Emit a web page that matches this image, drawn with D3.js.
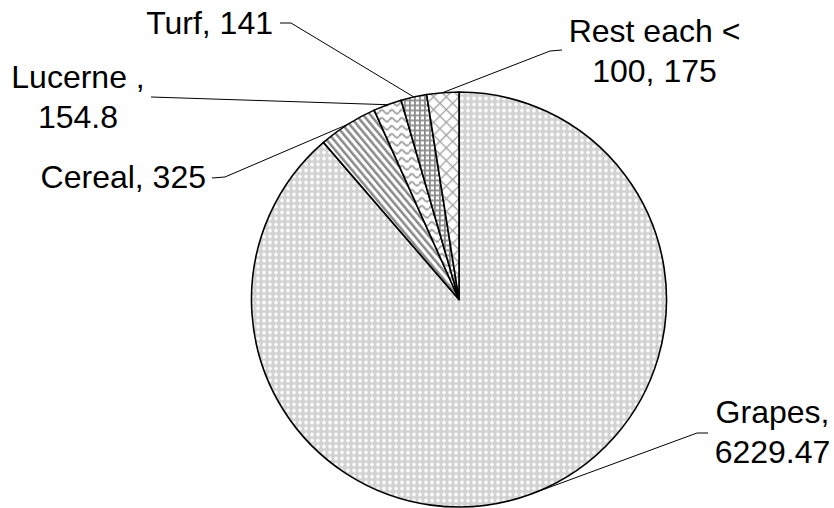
<!DOCTYPE html>
<html>
<head>
<meta charset="utf-8">
<script src="https://cdn.jsdelivr.net/npm/d3@7"></script>
<style>
  html, body { margin: 0; padding: 0; background: #fff; }
  svg { display: block; }
  text { font-family: "Liberation Sans", Arial, sans-serif; font-size: 32px; fill: #000; }
</style>
</head>
<body>
<svg id="chart" width="834" height="508"></svg>
<script>
// Irrigated crop areas
const crops = ["Grapes", "Cereal", "Lucerne", "Turf", "Rest"];
const areas = [6229.47, 325, 154.8, 141, 175];
const labelLines = [
  ["Grapes,", "6229.47"],
  ["Cereal, 325"],
  ["Lucerne ,", "154.8"],
  ["Turf, 141"],
  ["Rest each <", "100, 175"]
];

// Label placement (text anchor point, baselines, leader elbow points)
const labelLayout = {
  Grapes:  { x: 772.5, y: 423, anchor: "middle", leader: [[708, 433], [697, 433]] },
  Cereal:  { x: 206,   y: 188, anchor: "end",    leader: [[212, 178], [225, 177]] },
  Lucerne: { x: 78,    y: 88,  anchor: "middle", leader: [[151, 97]] },
  Turf:    { x: 273,   y: 34,  anchor: "end",    leader: [[280, 23], [291, 23]] },
  Rest:    { x: 654.5, y: 42,  anchor: "middle", leader: [[562, 50], [550, 51]] }
};
const lineHeight = 39.5;

const svg = d3.select("#chart");
const cx = 459, cy = 299.5, r = 207.5;

// ---- fill patterns ----
const defs = svg.append("defs");

// Grapes: fine light-grey lattice with white crosses
const pG = defs.append("pattern").attr("id", "pat-grapes")
  .attr("patternUnits", "userSpaceOnUse").attr("width", 6).attr("height", 6);
pG.append("rect").attr("width", 6).attr("height", 6).attr("fill", "#d2d2d2");
pG.append("rect").attr("x", 2).attr("y", 1).attr("width", 2).attr("height", 4).attr("fill", "#f4f4f4");
pG.append("rect").attr("x", 1).attr("y", 2).attr("width", 4).attr("height", 2).attr("fill", "#f4f4f4");
pG.append("rect").attr("x", 2).attr("y", 2).attr("width", 2).attr("height", 2).attr("fill", "#ffffff");

// Cereal: dark diagonal stripes running down to the right
const pC = defs.append("pattern").attr("id", "pat-cereal")
  .attr("patternUnits", "userSpaceOnUse").attr("width", 5.5).attr("height", 6)
  .attr("patternTransform", "rotate(-40)");
pC.append("rect").attr("width", 5.5).attr("height", 6).attr("fill", "#fff");
pC.append("rect").attr("x", 0).attr("y", 0).attr("width", 2.5).attr("height", 6).attr("fill", "#8a8a8a");

// Lucerne: horizontal waves
const pL = defs.append("pattern").attr("id", "pat-lucerne")
  .attr("patternUnits", "userSpaceOnUse").attr("width", 10).attr("height", 8);
pL.append("rect").attr("width", 10).attr("height", 8).attr("fill", "#fff");
pL.append("path").attr("d", "M0,5 Q2.5,0.5 5,4 Q7.5,7.5 10,5")
  .attr("fill", "none").attr("stroke", "#9a9a9a").attr("stroke-width", 1.8);

// Turf: small grid
const pT = defs.append("pattern").attr("id", "pat-turf")
  .attr("patternUnits", "userSpaceOnUse").attr("width", 5).attr("height", 5);
pT.append("rect").attr("width", 5).attr("height", 5).attr("fill", "#fff");
pT.append("rect").attr("x", 0).attr("y", 0).attr("width", 1.8).attr("height", 5).attr("fill", "#8c8c8c");
pT.append("rect").attr("x", 0).attr("y", 0).attr("width", 5).attr("height", 1.8).attr("fill", "#8c8c8c");

// Rest: diagonal trellis
const pR = defs.append("pattern").attr("id", "pat-rest")
  .attr("patternUnits", "userSpaceOnUse").attr("width", 9).attr("height", 9)
  .attr("patternTransform", "rotate(45)");
pR.append("rect").attr("width", 9).attr("height", 9).attr("fill", "#fff");
pR.append("rect").attr("x", 0).attr("y", 0).attr("width", 1.4).attr("height", 9).attr("fill", "#a8a8a8");
pR.append("rect").attr("x", 0).attr("y", 0).attr("width", 9).attr("height", 1.4).attr("fill", "#a8a8a8");

const fills = d3.scaleOrdinal()
  .domain(crops)
  .range(["url(#pat-grapes)", "url(#pat-cereal)", "url(#pat-lucerne)", "url(#pat-turf)", "url(#pat-rest)"]);

// ---- pie ----
const data = crops.map((c, i) => ({ crop: c, value: areas[i], lines: labelLines[i] }));
const pie = d3.pie().sort(null).value(d => d.value).startAngle(0).endAngle(2 * Math.PI);
const arcs = pie(data);
const arc = d3.arc().innerRadius(0).outerRadius(r);

const g = svg.append("g").attr("transform", `translate(${cx},${cy})`);
g.selectAll("path.slice")
  .data(arcs)
  .join("path")
  .attr("class", "slice")
  .attr("d", arc)
  .attr("fill", d => fills(d.data.crop))
  .attr("stroke", "#000")
  .attr("stroke-width", 1.6)
  .attr("stroke-linejoin", "round");

// ---- leader lines ----
const line = d3.line();
arcs.forEach(a => {
  const L = labelLayout[a.data.crop];
  const mid = (a.startAngle + a.endAngle) / 2;
  const edge = [cx + r * Math.sin(mid), cy - r * Math.cos(mid)];
  const pts = L.leader.concat([edge]);
  svg.append("path")
    .attr("d", line(pts))
    .attr("fill", "none")
    .attr("stroke", "#000")
    .attr("stroke-width", 1);
});

// ---- labels ----
arcs.forEach(a => {
  const L = labelLayout[a.data.crop];
  const t = svg.append("text")
    .attr("text-anchor", L.anchor)
    .attr("x", L.x)
    .attr("y", L.y);
  a.data.lines.forEach((s, i) => {
    t.append("tspan").attr("x", L.x).attr("y", L.y + i * lineHeight).text(s);
  });
});
</script>
</body>
</html>
